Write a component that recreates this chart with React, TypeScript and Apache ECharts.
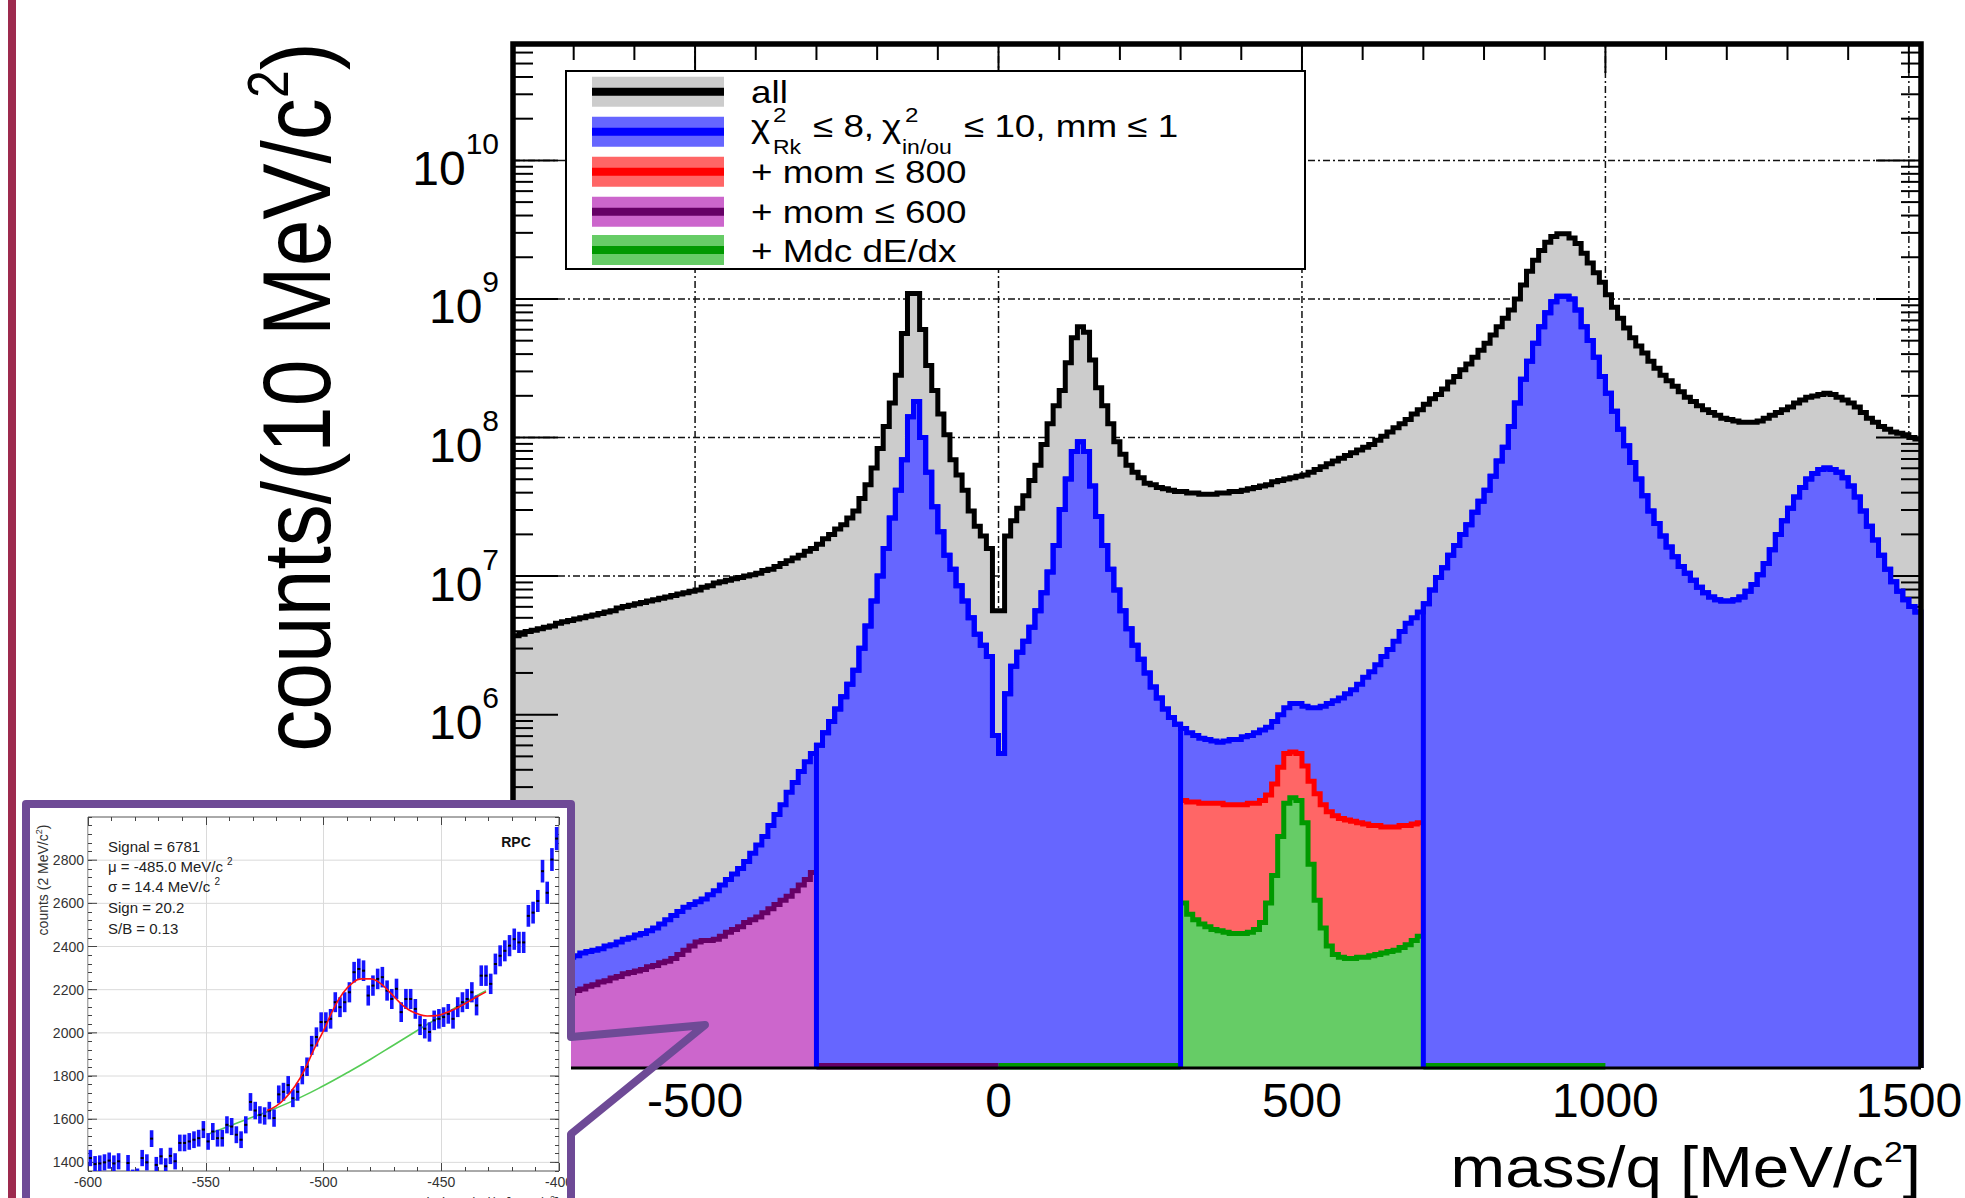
import React, { useEffect, useRef } from "react";
import * as echarts from "echarts";

const FONT = '"Liberation Sans", Arial, Helvetica, sans-serif';

// ---------------- main histograms: log10(counts per 10 MeV/c^2 bin) ----------------
const BIN_WIDTH = 10;

const ALL_START = -800;
const ALL_LOG10 = [
  6.57, 6.58, 6.6, 6.61, 6.62, 6.63, 6.64, 6.66, 6.67, 6.68,
  6.69, 6.7, 6.71, 6.72, 6.73, 6.74, 6.75, 6.77, 6.78, 6.79,
  6.8, 6.81, 6.82, 6.83, 6.84, 6.85, 6.86, 6.87, 6.88, 6.89,
  6.9, 6.92, 6.93, 6.95, 6.96, 6.97, 6.98, 6.99, 7.0, 7.01,
  7.02, 7.04, 7.05, 7.07, 7.09, 7.11, 7.13, 7.15, 7.18, 7.2,
  7.23, 7.27, 7.3, 7.34, 7.37, 7.42, 7.47, 7.56, 7.66, 7.78,
  7.92, 8.08, 8.25, 8.45, 8.75, 9.04, 9.04, 8.78, 8.52, 8.34,
  8.17, 8.02, 7.84, 7.73, 7.62, 7.47, 7.36, 7.29, 7.2, 6.75,
  6.75, 7.29, 7.4, 7.49, 7.58, 7.69, 7.8, 7.95, 8.1, 8.23,
  8.34, 8.54, 8.72, 8.8, 8.76, 8.56, 8.36, 8.23, 8.1, 7.97,
  7.88, 7.8, 7.75, 7.71, 7.67, 7.66, 7.64, 7.63, 7.62, 7.61,
  7.61, 7.6, 7.6, 7.59, 7.59, 7.59, 7.6, 7.6, 7.61, 7.61,
  7.62, 7.63, 7.64, 7.65, 7.66, 7.68, 7.69, 7.7, 7.71, 7.72,
  7.73, 7.75, 7.77, 7.79, 7.81, 7.83, 7.85, 7.87, 7.89, 7.91,
  7.93, 7.95, 7.98, 8.01, 8.04, 8.07, 8.1, 8.13, 8.17, 8.2,
  8.24, 8.28, 8.31, 8.35, 8.4, 8.44, 8.49, 8.53, 8.58, 8.63,
  8.68, 8.74, 8.8, 8.86, 8.92, 9.0, 9.1, 9.2, 9.28, 9.35,
  9.41, 9.45, 9.47, 9.47, 9.44, 9.4, 9.33, 9.26, 9.19, 9.12,
  9.03, 8.94, 8.86, 8.79, 8.72, 8.66, 8.61, 8.55, 8.5, 8.45,
  8.41, 8.37, 8.33, 8.29, 8.26, 8.23, 8.2, 8.18, 8.16, 8.14,
  8.13, 8.12, 8.11, 8.11, 8.11, 8.12, 8.14, 8.16, 8.18, 8.2,
  8.22, 8.25, 8.27, 8.29, 8.3, 8.31, 8.32, 8.31, 8.29, 8.27,
  8.25, 8.22, 8.18, 8.14, 8.11, 8.08, 8.06, 8.04, 8.03, 8.02,
  8.0, 7.99,
];

const CHI2_START = -800;
const CHI2_LOG10 = [
  4.16, 4.17, 4.18, 4.19, 4.2, 4.21, 4.22, 4.23, 4.24, 4.25,
  4.26, 4.28, 4.29, 4.3, 4.31, 4.33, 4.34, 4.36, 4.38, 4.39,
  4.41, 4.42, 4.44, 4.46, 4.49, 4.52, 4.55, 4.58, 4.61, 4.63,
  4.65, 4.67, 4.7, 4.73, 4.77, 4.81, 4.85, 4.89, 4.94, 5.0,
  5.06, 5.12, 5.2, 5.28, 5.35, 5.44, 5.51, 5.59, 5.66, 5.72,
  5.78, 5.87, 5.95, 6.04, 6.13, 6.22, 6.32, 6.48, 6.64, 6.82,
  7.0, 7.2, 7.42, 7.62, 7.84, 8.15, 8.26, 8.0, 7.75, 7.5,
  7.32, 7.15, 7.05, 6.93, 6.82, 6.7, 6.58, 6.5, 6.42, 5.85,
  5.72, 6.15, 6.35, 6.45, 6.53, 6.63, 6.75, 6.88, 7.03, 7.22,
  7.48, 7.7, 7.9, 7.97, 7.9, 7.65, 7.43, 7.22, 7.05, 6.9,
  6.75, 6.62, 6.5, 6.4, 6.3, 6.2, 6.12, 6.04, 5.98, 5.93,
  5.9, 5.87, 5.85, 5.83, 5.82, 5.81, 5.8, 5.81, 5.82, 5.82,
  5.84, 5.85, 5.87, 5.89, 5.91, 5.95, 6.0, 6.05, 6.08, 6.08,
  6.06, 6.05, 6.05, 6.06, 6.08, 6.1, 6.12, 6.15, 6.18, 6.22,
  6.27, 6.31, 6.36, 6.42, 6.47, 6.53, 6.6, 6.66, 6.7, 6.74,
  6.8, 6.9, 6.99, 7.06, 7.15, 7.22, 7.3, 7.37, 7.46, 7.54,
  7.62, 7.72, 7.83, 7.93, 8.08, 8.25, 8.42, 8.55, 8.68, 8.8,
  8.9, 8.98, 9.02, 9.02, 9.0, 8.92, 8.8, 8.7, 8.58, 8.44,
  8.32, 8.19, 8.06, 7.94, 7.82, 7.7, 7.58, 7.47, 7.38, 7.29,
  7.21, 7.14, 7.07, 7.02, 6.97, 6.92, 6.88, 6.85, 6.83, 6.82,
  6.82, 6.83, 6.85, 6.89, 6.94, 7.01, 7.09, 7.19, 7.3, 7.4,
  7.49, 7.57, 7.64, 7.7, 7.74, 7.77, 7.78, 7.77, 7.75, 7.71,
  7.65, 7.57, 7.47, 7.36, 7.26, 7.15, 7.05, 6.96, 6.89, 6.83,
  6.78, 6.74,
];

const MOM600_START = -800;
const MOM600_LOG10 = [
  3.9, 3.91, 3.92, 3.93, 3.94, 3.95, 3.96, 3.97, 3.98, 3.99,
  4.01, 4.02, 4.04, 4.05, 4.07, 4.08, 4.1, 4.11, 4.13, 4.14,
  4.15, 4.16, 4.18, 4.19, 4.21, 4.22, 4.24, 4.27, 4.3, 4.33,
  4.36, 4.37, 4.37, 4.38, 4.4, 4.43, 4.45, 4.47, 4.5, 4.52,
  4.54, 4.57, 4.6, 4.63, 4.66, 4.69, 4.73, 4.77, 4.81, 4.86,
];
const MOM600_EMPTY = [[-300, 0]];

const MOM800_START = 300;
const MOM800_LOG10 = [
  5.38, 5.37, 5.37, 5.36, 5.36, 5.36, 5.36, 5.35, 5.35, 5.35,
  5.35, 5.36, 5.36, 5.38, 5.42, 5.5, 5.62, 5.72, 5.73, 5.72,
  5.63, 5.52, 5.43, 5.35, 5.3, 5.27, 5.25, 5.24, 5.23, 5.22,
  5.21, 5.2, 5.2, 5.19, 5.19, 5.19, 5.2, 5.2, 5.21, 5.22,
];

const MDC_START = 300;
const MDC_LOG10 = [
  4.64, 4.56, 4.52, 4.49, 4.47, 4.45, 4.44, 4.43, 4.42, 4.42,
  4.42, 4.43, 4.45, 4.5, 4.64, 4.84, 5.12, 5.36, 5.4, 5.38,
  5.22, 4.92, 4.66, 4.46, 4.33, 4.27, 4.25, 4.24, 4.24, 4.25,
  4.25, 4.26, 4.27, 4.28, 4.29, 4.3, 4.32, 4.34, 4.37, 4.4,
];
const MDC_EMPTY = [[0, 300], [700, 1000]];

const SELECTED_RANGES = [[-300, 300], [700, 1520]];

const X_LABELS = [-500, 0, 500, 1000, 1500];
const Y_DECADES = [6, 7, 8, 9, 10];
const GRID_X = [-500, 0, 500, 1000, 1500];
const GRID_Y_EXP = [4, 5, 6, 7, 8, 9, 10];

const LEGEND_ROWS = [
  { fill: "#cccccc", line: "#000000", label: "all" },
  { fill: "#6666ff", line: "#0000ff", label: "" },
  { fill: "#ff6666", line: "#ff0000", label: "+ mom \u2264 800" },
  { fill: "#cc66cc", line: "#660066", label: "+ mom \u2264 600" },
  { fill: "#66cc66", line: "#009900", label: "+ Mdc dE/dx" },
];

// ---------------- inset ----------------
const INSET_START = -600;
const INSET_BIN = 2;
const INSET_COUNTS = [
  1420, 1392, 1395, 1400, 1408, 1395, 1405, 1320, 1397, 1330,
  1335, 1420, 1400, 1510, 1388, 1428, 1382, 1430, 1405, 1490,
  1490, 1497, 1505, 1512, 1552, 1497, 1543, 1512, 1512, 1574,
  1566, 1528, 1505, 1574, 1680, 1640, 1620, 1615, 1640, 1605,
  1715, 1727, 1758, 1697, 1727, 1804, 1843, 1942, 1981, 2050,
  2050, 2065, 2142, 2119, 2142, 2188, 2281, 2296, 2288, 2173,
  2219, 2250, 2258, 2196, 2157, 2204, 2096, 2157, 2157, 2111,
  2035, 2019, 2004, 2058, 2065, 2073, 2088, 2065, 2119, 2142,
  2157, 2188, 2127, 2265, 2265, 2227, 2319, 2357, 2380, 2404,
  2434, 2419, 2419, 2542, 2557, 2611, 2749, 2649, 2803, 2900,
];
const FIT_TOTAL = [
  [-524, 1640], [-520, 1662], [-516, 1700], [-512, 1755], [-508, 1830], [-504, 1925],
  [-500, 2010], [-496, 2105], [-492, 2180], [-488, 2228], [-484, 2250], [-480, 2250],
  [-476, 2230], [-472, 2190], [-468, 2145], [-464, 2108], [-460, 2088], [-456, 2078],
  [-452, 2080], [-448, 2093], [-444, 2112], [-440, 2135], [-436, 2160], [-431, 2190],
];
const FIT_BKG = [
  [-549, 1530], [-540, 1568], [-530, 1610], [-520, 1652], [-510, 1700], [-500, 1755],
  [-490, 1815], [-480, 1878], [-470, 1945], [-460, 2012], [-450, 2078], [-440, 2142], [-431, 2195],
];
const INSET_Y_LABELS = [1400, 1600, 1800, 2000, 2200, 2400, 2600, 2800];
const INSET_STATS = [
  "Signal = 6781",
  "\u03bc = -485.0 MeV/c {s|2}",
  "\u03c3 = 14.4 MeV/c {s|2}",
  "Sign = 20.2",
  "S/B = 0.13",
];

// ---------------- layout ----------------
const W = 1965;
const H = 1198;
const GL = 513, GT = 44, GR = 1921, GB = 1068;
const X_MIN = -800, X_MAX = 1520;
const Y_MIN = Math.pow(10, 3.45), Y_MAX = Math.pow(10, 10.84);
const IX_MIN = -600, IX_MAX = -400, IY_MIN = 1360, IY_MAX = 3000;
const IL = 88, IT = 817, IW = 471, IH = 354;

function histPoints(start: number, logs: number[]) {
  const pts: number[][] = logs.map((l, i) => [start + i * BIN_WIDTH, Math.pow(10, l)]);
  pts.push([start + logs.length * BIN_WIDTH, Math.pow(10, logs[logs.length - 1])]);
  return pts;
}

function selectedPoints(start: number, logs: number[], a: number, b: number) {
  const pts: number[][] = [[a, Y_MIN]];
  for (let x = a; x < b; x += BIN_WIDTH) {
    pts.push([x, Math.pow(10, logs[Math.round((x - start) / BIN_WIDTH)])]);
  }
  pts.push([b, Math.pow(10, logs[Math.round((b - BIN_WIDTH - start) / BIN_WIDTH)])]);
  pts.push([b, Y_MIN]);
  return pts;
}

function histSeries(name: string, data: number[][], line: string, fill: string | null, z: number, width = 5) {
  return {
    name,
    type: "line",
    xAxisIndex: 0,
    yAxisIndex: 0,
    step: "end",
    data,
    symbol: "none",
    silent: true,
    z,
    clip: true,
    lineStyle: { color: line, width, join: "miter" },
    areaStyle: fill ? { color: fill, opacity: 1, origin: "start" } : undefined,
    emphasis: { disabled: true },
  };
}

function buildOption() {
  const series: any[] = [];

  // grid lines (dash-dot), under everything
  const gridData: any[] = [];
  GRID_X.forEach((x) => gridData.push([x, Y_MIN, 0]));
  GRID_Y_EXP.forEach((e) => gridData.push([X_MIN, Math.pow(10, e), 1]));
  series.push({
    type: "custom",
    xAxisIndex: 0,
    yAxisIndex: 0,
    z: 1,
    silent: true,
    data: gridData,
    renderItem: (params: any, api: any) => {
      const kind = api.value(2);
      let p1, p2;
      if (kind === 0) {
        p1 = api.coord([api.value(0), Y_MIN]);
        p2 = api.coord([api.value(0), Y_MAX]);
      } else {
        p1 = api.coord([X_MIN, api.value(1)]);
        p2 = api.coord([X_MAX, api.value(1)]);
      }
      return {
        type: "line",
        shape: { x1: p1[0], y1: p1[1], x2: p2[0], y2: p2[1] },
        style: { stroke: "#111", lineWidth: 1.5, lineDash: [7, 3, 2, 3] },
      };
    },
  });

  series.push(histSeries("all", histPoints(ALL_START, ALL_LOG10), "#000000", "#cccccc", 2));

  // axis ticks (ROOT style, inside the frame)
  const tickData: any[] = [];
  for (let e = 3; e <= 10; e++) {
    for (let m = 1; m <= 9; m++) {
      const v = m * Math.pow(10, e);
      if (v > Y_MIN && v < Y_MAX) tickData.push([X_MIN, v, m === 1 ? 1 : 0, 0]);
    }
  }
  for (let x = -700; x <= 1500; x += 100) tickData.push([x, Y_MAX, x % 500 === 0 ? 1 : 0, 1]);
  series.push({
    type: "custom",
    xAxisIndex: 0,
    yAxisIndex: 0,
    z: 3,
    silent: true,
    data: tickData,
    renderItem: (params: any, api: any) => {
      const major = api.value(2) === 1;
      if (api.value(3) === 0) {
        const l = api.coord([X_MIN, api.value(1)]);
        const r = api.coord([X_MAX, api.value(1)]);
        const len = major ? 45 : 20;
        return {
          type: "group",
          children: [
            { type: "line", shape: { x1: l[0], y1: l[1], x2: l[0] + len, y2: l[1] }, style: { stroke: "#000", lineWidth: 2 } },
            { type: "line", shape: { x1: r[0] - len, y1: r[1], x2: r[0], y2: r[1] }, style: { stroke: "#000", lineWidth: 2 } },
          ],
        };
      }
      const t = api.coord([api.value(0), Y_MAX]);
      const len = major ? 29 : 16;
      return { type: "line", shape: { x1: t[0], y1: t[1], x2: t[0], y2: t[1] + len }, style: { stroke: "#000", lineWidth: 2 } };
    },
  });

  series.push(histSeries("chi2", histPoints(CHI2_START, CHI2_LOG10), "#0000ff", "#6666ff", 4));
  series.push(histSeries("mom600", histPoints(MOM600_START, MOM600_LOG10), "#660066", "#cc66cc", 5));
  MOM600_EMPTY.forEach(([a, b]) =>
    series.push(histSeries("mom600 empty", [[a, Y_MIN], [b, Y_MIN]], "#660066", null, 5, 10))
  );
  series.push(histSeries("mom800", histPoints(MOM800_START, MOM800_LOG10), "#ff0000", "#ff6666", 6));
  series.push(histSeries("mdc", histPoints(MDC_START, MDC_LOG10), "#009900", "#66cc66", 7));
  MDC_EMPTY.forEach(([a, b]) =>
    series.push(histSeries("mdc empty", [[a, Y_MIN], [b, Y_MIN]], "#009900", null, 7, 10))
  );
  SELECTED_RANGES.forEach(([a, b]) =>
    series.push(histSeries("selected", selectedPoints(CHI2_START, CHI2_LOG10, a, b), "#0000ff", null, 8))
  );

  // ---------- inset series ----------
  series.push({
    type: "custom",
    xAxisIndex: 1,
    yAxisIndex: 1,
    zlevel: 1,
    z: 2,
    silent: true,
    data: INSET_Y_LABELS.map((v) => [IX_MIN, v]),
    renderItem: (params: any, api: any) => {
      const l = api.coord([IX_MIN, api.value(1)]);
      const r = api.coord([IX_MAX, api.value(1)]);
      return {
        type: "group",
        children: [
          { type: "line", shape: { x1: l[0], y1: l[1], x2: r[0], y2: r[1] }, style: { stroke: "#dadada", lineWidth: 1 } },
          { type: "line", shape: { x1: l[0], y1: l[1], x2: l[0] + 9, y2: l[1] }, style: { stroke: "#444", lineWidth: 1 } },
          { type: "line", shape: { x1: r[0] - 9, y1: r[1], x2: r[0], y2: r[1] }, style: { stroke: "#444", lineWidth: 1 } },
        ],
      };
    },
  });
  series.push({
    type: "line",
    xAxisIndex: 1,
    yAxisIndex: 1,
    zlevel: 1,
    z: 3,
    data: FIT_BKG,
    smooth: true,
    symbol: "none",
    silent: true,
    lineStyle: { color: "#55cc55", width: 1.6 },
  });
  series.push({
    type: "custom",
    xAxisIndex: 1,
    yAxisIndex: 1,
    zlevel: 1,
    z: 4,
    silent: true,
    clip: true,
    data: INSET_COUNTS.map((c, k) => [INSET_START + INSET_BIN * (k + 0.5), c]),
    renderItem: (params: any, api: any) => {
      const x = api.value(0);
      const y = api.value(1);
      const err = Math.sqrt(y);
      const top = api.coord([x, y + err]);
      const bot = api.coord([x, y - err]);
      const c = api.coord([x, y]);
      return {
        type: "group",
        children: [
          { type: "rect", shape: { x: top[0] - 1.8, y: top[1], width: 3.6, height: bot[1] - top[1] }, style: { fill: "#1414ff" } },
          { type: "rect", shape: { x: c[0] - 1.5, y: c[1] - 1, width: 3, height: 2 }, style: { fill: "#000" } },
        ],
      };
    },
  });
  series.push({
    type: "line",
    xAxisIndex: 1,
    yAxisIndex: 1,
    zlevel: 1,
    z: 5,
    data: FIT_TOTAL,
    smooth: true,
    symbol: "none",
    silent: true,
    lineStyle: { color: "#ff1010", width: 1.6 },
  });

  // ---------- graphics ----------
  const graphic: any[] = [];
  graphic.push({ type: "rect", shape: { x: 8, y: 0, width: 8, height: H }, style: { fill: "#9d2a4e" }, z: 100 });
  // mask under the bottom frame line
  graphic.push({ type: "rect", shape: { x: GL - 3, y: GB + 1.5, width: GR - GL + 6, height: 6 }, style: { fill: "#fff" }, z: 99 });
  graphic.push({
    type: "polyline",
    shape: { points: [[GL, GB], [GL, GT], [GR, GT], [GR, GB]] },
    style: { stroke: "#000", lineWidth: 5.5, fill: "none", lineJoin: "miter" },
    z: 100,
  });
  graphic.push({ type: "line", shape: { x1: GL, y1: GB, x2: GR, y2: GB }, style: { stroke: "#000", lineWidth: 3 }, z: 100 });

  // legend
  graphic.push({ type: "rect", shape: { x: 566, y: 71, width: 739, height: 198 }, style: { fill: "#fff", stroke: "#000", lineWidth: 2 }, z: 110 });
  const rowMid = [91.7, 131.7, 171.7, 211.7, 250];
  const textMid = [91.5, 126, 171.5, 211.5, 250.5];
  LEGEND_ROWS.forEach((r, i) => {
    graphic.push({ type: "rect", shape: { x: 592, y: rowMid[i] - 15, width: 132, height: 30 }, style: { fill: r.fill }, z: 111 });
    graphic.push({ type: "rect", shape: { x: 592, y: rowMid[i] - 4, width: 132, height: 8 }, style: { fill: r.line }, z: 112 });
    if (r.label) {
      graphic.push({
        type: "text",
        x: 751,
        y: textMid[i],
        scaleX: 1.15,
        style: { text: r.label, fontSize: 32, fontFamily: FONT, fill: "#000", align: "left", verticalAlign: "middle" },
        z: 112,
      });
    }
  });
  const legText = (t: string, x: number, y: number, size: number) => ({
    type: "text",
    x,
    y,
    scaleX: 1.15,
    style: { text: t, fontSize: size, fontFamily: FONT, fill: "#000", align: "left", verticalAlign: "middle" },
    z: 112,
  });
  graphic.push(legText("\u03c7", 751, 126, 32));
  graphic.push(legText("2", 773, 115.5, 21));
  graphic.push(legText("Rk", 773, 147, 20));
  graphic.push(legText("\u2264 8,", 813, 126, 32));
  graphic.push(legText("\u03c7", 882, 126, 32));
  graphic.push(legText("2", 905, 115.5, 21));
  graphic.push(legText("in/ou", 902, 147, 20));
  graphic.push(legText("\u2264 10, mm \u2264 1", 964, 126, 32));

  // axis titles
  graphic.push({
    type: "text",
    x: 296,
    y: 397,
    rotation: Math.PI / 2,
    scaleY: 1.15,
    style: {
      text: "counts/(10 MeV/c{s|2})",
      fontSize: 84,
      fontFamily: FONT,
      fill: "#000",
      lineHeight: 100,
      align: "center",
      verticalAlign: "middle",
      rich: { s: { fontSize: 50, fontFamily: FONT, fill: "#000", lineHeight: 50, verticalAlign: "top" } },
    },
    z: 100,
  });
  graphic.push({
    type: "text",
    x: 1921,
    y: 1167,
    scaleX: 1.13,
    style: {
      text: "mass/q [MeV/c{s|2}]",
      fontSize: 58,
      fontFamily: FONT,
      fill: "#000",
      lineHeight: 60,
      align: "right",
      verticalAlign: "middle",
      rich: { s: { fontSize: 30, fontFamily: FONT, fill: "#000", lineHeight: 10, verticalAlign: "top" } },
    },
    z: 100,
  });

  // inset background, texts and border (upper layer)
  graphic.push({ type: "rect", shape: { x: 26, y: 804, width: 545, height: 420 }, style: { fill: "#fff" }, zlevel: 1, z: 0 });
  const statMid = [846, 866, 886, 907, 928];
  INSET_STATS.forEach((t, i) =>
    graphic.push({
      type: "text",
      x: 108,
      y: statMid[i],
      style: {
        text: t,
        fontSize: 15,
        fontFamily: FONT,
        fill: "#222",
        lineHeight: 20,
        align: "left",
        verticalAlign: "middle",
        rich: { s: { fontSize: 10, fontFamily: FONT, fill: "#222", lineHeight: 10, verticalAlign: "top" } },
      },
      zlevel: 1,
      z: 10,
    })
  );
  graphic.push({
    type: "text",
    x: 516,
    y: 842,
    style: { text: "RPC", fontSize: 14, fontWeight: "bold", fontFamily: FONT, fill: "#111", align: "center", verticalAlign: "middle" },
    zlevel: 1,
    z: 10,
  });
  graphic.push({
    type: "text",
    x: 43,
    y: 880,
    rotation: Math.PI / 2,
    style: {
      text: "counts (2 MeV/c{s|2})",
      fontSize: 14,
      fontFamily: FONT,
      fill: "#333",
      lineHeight: 18,
      align: "center",
      verticalAlign: "middle",
      rich: { s: { fontSize: 9, fontFamily: FONT, fill: "#333", lineHeight: 9, verticalAlign: "top" } },
    },
    zlevel: 1,
    z: 10,
  });
  graphic.push({
    type: "text",
    x: 559,
    y: 1203,
    style: {
      text: "polarity \u00d7 |M|/q [MeV/c{s|2}]",
      fontSize: 14,
      fontFamily: FONT,
      fill: "#333",
      lineHeight: 18,
      align: "right",
      verticalAlign: "middle",
      rich: { s: { fontSize: 9, fontFamily: FONT, fill: "#333", lineHeight: 9, verticalAlign: "top" } },
    },
    zlevel: 1,
    z: 10,
  });
  graphic.push({
    type: "polyline",
    shape: { points: [[26, 1230], [26, 804], [571, 804], [571, 1037], [705, 1025], [571, 1134], [571, 1230]] },
    style: { stroke: "#6e4a96", lineWidth: 8, fill: "none", lineJoin: "round" },
    zlevel: 1,
    z: 20,
  });

  const yFmt = (v: number) => {
    const e = Math.log10(v);
    const r = Math.round(e);
    if (Math.abs(e - r) > 1e-6 || Y_DECADES.indexOf(r) < 0) return "";
    return "{b|10}{e|" + r + "}";
  };

  const insetTick = { show: true, inside: true, length: 8, lineStyle: { color: "#444", width: 1 } };
  const insetMinor = { show: true, splitNumber: 5, length: 4, lineStyle: { color: "#444", width: 1 } };

  return {
    animation: false,
    backgroundColor: "#ffffff",
    grid: [
      { left: GL, top: GT, width: GR - GL, height: GB - GT, outerBoundsMode: "none" },
      {
        left: IL, top: IT, width: IW, height: IH, show: true, borderColor: "#555", borderWidth: 1,
        backgroundColor: "#ffffff", zlevel: 1, z: 1, outerBoundsMode: "none",
      },
    ],
    xAxis: [
      {
        gridIndex: 0, type: "value", min: X_MIN, max: X_MAX,
        axisLine: { show: false }, axisTick: { show: false }, splitLine: { show: false },
        axisLabel: {
          formatter: (v: number) => (X_LABELS.indexOf(v) >= 0 ? String(v) : ""),
          fontSize: 48, fontFamily: FONT, color: "#000", margin: 8,
        },
      },
      {
        gridIndex: 1, type: "value", min: IX_MIN, max: IX_MAX, interval: 50, position: "bottom", zlevel: 1, z: 2,
        axisLine: { show: false }, axisTick: insetTick, minorTick: insetMinor,
        splitLine: { show: true, lineStyle: { color: "#dadada", width: 1 } },
        axisLabel: { fontSize: 14, fontFamily: FONT, color: "#333", margin: 4 },
      },
      {
        gridIndex: 1, type: "value", min: IX_MIN, max: IX_MAX, interval: 50, position: "top", zlevel: 1, z: 2,
        axisLine: { show: false }, axisTick: insetTick, minorTick: insetMinor,
        splitLine: { show: false }, axisLabel: { show: false },
      },
    ],
    yAxis: [
      {
        gridIndex: 0, type: "log", logBase: 10, min: Y_MIN, max: Y_MAX,
        axisLine: { show: false }, axisTick: { show: false }, splitLine: { show: false },
        minorTick: { show: false }, minorSplitLine: { show: false },
        axisLabel: {
          formatter: yFmt,
          margin: 14,
          rich: {
            b: { fontSize: 48, fontFamily: FONT, color: "#000", lineHeight: 64, verticalAlign: "bottom" },
            e: { fontSize: 30, fontFamily: FONT, color: "#000", lineHeight: 30, verticalAlign: "top" },
          },
        },
      },
      {
        gridIndex: 1, type: "value", min: IY_MIN, max: IY_MAX, interval: 40, position: "left", zlevel: 1, z: 2,
        axisLine: { show: false }, axisTick: { show: true, inside: true, length: 4, lineStyle: { color: "#444", width: 1 } },
        splitLine: { show: false },
        axisLabel: {
          formatter: (v: number) => (INSET_Y_LABELS.indexOf(v) >= 0 ? String(v) : ""),
          fontSize: 14, fontFamily: FONT, color: "#333", margin: 4,
        },
      },
      {
        gridIndex: 1, type: "value", min: IY_MIN, max: IY_MAX, interval: 40, position: "right", zlevel: 1, z: 2,
        axisLine: { show: false }, axisTick: { show: true, inside: true, length: 4, lineStyle: { color: "#444", width: 1 } },
        splitLine: { show: false }, axisLabel: { show: false },
      },
    ],
    series,
    graphic,
  };
}

export default function App() {
  const ref = useRef<HTMLDivElement>(null);
  useEffect(() => {
    if (!ref.current) return;
    const chart = echarts.init(ref.current, undefined, { renderer: "svg", width: W, height: H });
    chart.setOption(buildOption() as any);
    return () => chart.dispose();
  }, []);
  return (
    <div
      ref={ref}
      style={{ position: "absolute", left: 0, top: 0, width: W, height: H, background: "#fff", overflow: "hidden" }}
    />
  );
}
